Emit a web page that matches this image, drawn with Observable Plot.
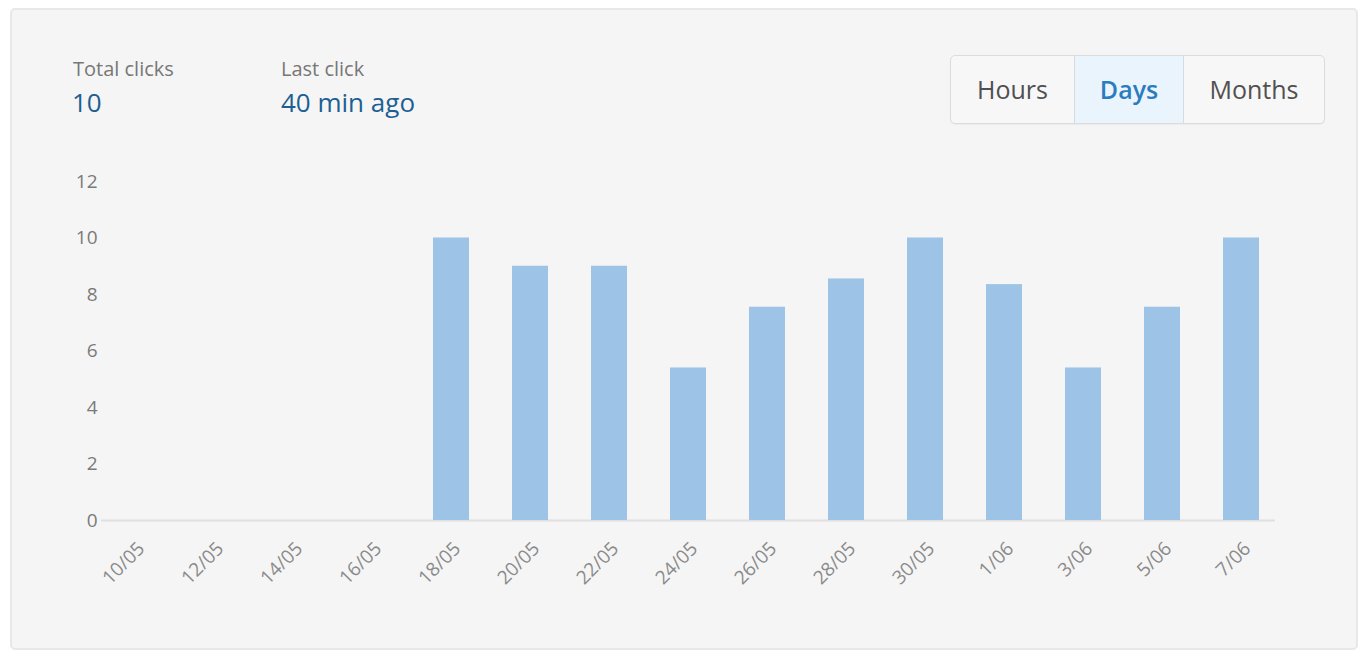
<!DOCTYPE html>
<html>
<head>
<meta charset="utf-8">
<script src="https://cdn.jsdelivr.net/npm/d3@7"></script>
<script src="https://cdn.jsdelivr.net/npm/@observablehq/plot@0.6"></script>
<style>
  html, body { margin: 0; padding: 0; background: #ffffff; width: 1366px; height: 654px; overflow: hidden; font-family: "Open Sans", Lato, sans-serif; }
  #card { position: absolute; left: 10px; top: 8px; width: 1344px; height: 638px; border: 2px solid #e8e8e8; border-radius: 5px; background: #f5f5f5; }
  .stat-label { position: absolute; font-size: 20px; color: #777777; }
  .stat-value { position: absolute; font-size: 26px; color: #1d5f92; }
  #buttons { position: absolute; left: 950px; top: 55px; height: 67px; display: flex; border: 1px solid #dcdcdc; border-radius: 5px; background: #f7f7f7; overflow: hidden; box-shadow: 0 1px 1px rgba(0,0,0,0.04); }
  .btn { height: 67px; line-height: 67px; font-size: 25px; color: #505050; text-align: center; box-sizing: border-box; }
  .btn.active { color: #2b7cbf; background: #eaf4fc; border-left: 1px solid #d6dbe0; border-right: 1px solid #d6dbe0; font-weight: 600; }
  #chart { position: absolute; left: 0; top: 160px; }
</style>
</head>
<body>
<div id="card"></div>
<div class="stat-label" style="left:73px; top:55px;">Total clicks</div>
<div class="stat-value" style="left:72px; top:84px;">10</div>
<div class="stat-label" style="left:281px; top:55px;">Last click</div>
<div class="stat-value" style="left:281px; top:84px;">40 min ago</div>
<div id="buttons"></div>
<div id="chart"></div>
<script>
const dates = ["10/05","12/05","14/05","16/05","18/05","20/05","22/05","24/05","26/05","28/05","30/05","1/06","3/06","5/06","7/06"];
const clicks = [0, 0, 0, 0, 10, 9, 9, 5.4, 7.55, 8.55, 10, 8.35, 5.4, 7.55, 10];
const yTicks = [0, 2, 4, 6, 8, 10, 12];
const periods = ["Hours", "Days", "Months"];
const activePeriod = "Days";

const btnWidths = {Hours: 123, Days: 110, Months: 140};
const bwrap = document.getElementById("buttons");
for (const p of periods) {
  const b = document.createElement("div");
  b.className = "btn" + (p === activePeriod ? " active" : "");
  b.style.width = btnWidths[p] + "px";
  b.textContent = p;
  bwrap.appendChild(b);
}

const data = dates.map((d, i) => ({date: d, clicks: clicks[i]}));

const chart = Plot.plot({
  width: 1366,
  height: 460,
  marginLeft: 101,
  marginRight: 91,
  marginTop: 21,
  marginBottom: 100,
  style: {background: "transparent", fontFamily: "'Open Sans', Lato, sans-serif"},
  x: {type: "band", domain: dates, paddingInner: 0.54, paddingOuter: 0.2, axis: null},
  y: {domain: [0, 12], axis: null},
  marks: [
    Plot.ruleY([0], {stroke: "#e0e0e0", strokeWidth: 2}),
    Plot.barY(data, {x: "date", y: "clicks", fill: "#9dc3e6"}),
    Plot.axisY({ticks: yTicks, tickSize: 0, tickPadding: 4, fontSize: 19, color: "#7a7a7a", label: null}),
    Plot.axisX({tickSize: 0, tickPadding: 12, tickRotate: -45, fontSize: 19, color: "#8a8a8a", label: null, dx: 6, dy: 13})
  ]
});
document.getElementById("chart").appendChild(chart);
</script>
</body>
</html>
